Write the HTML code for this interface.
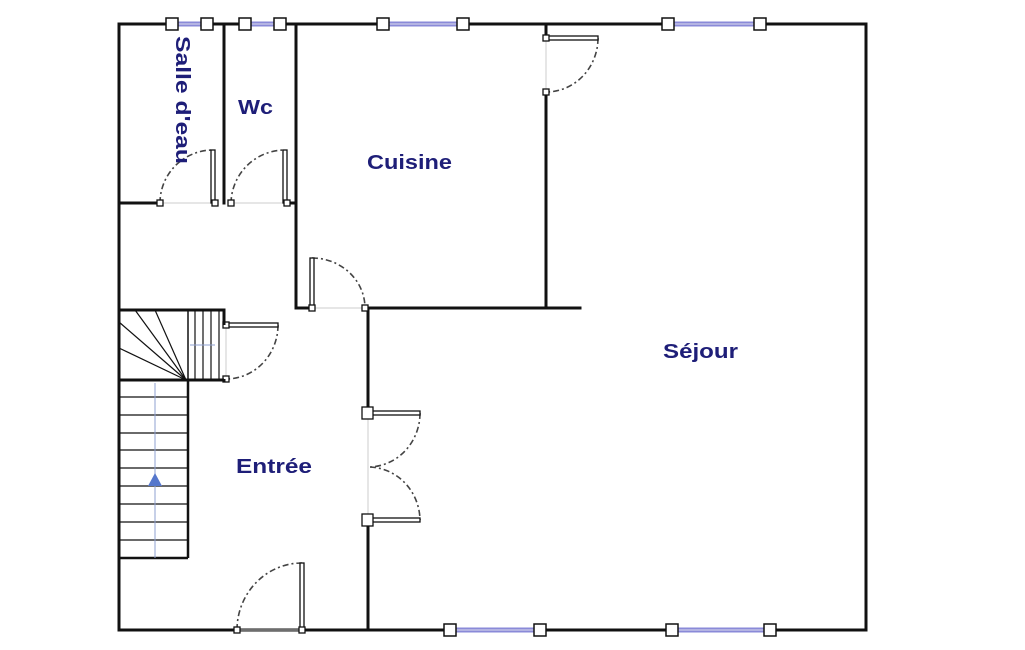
<!DOCTYPE html>
<html><head><meta charset="utf-8"><style>
html,body{margin:0;padding:0;background:#fff;}
svg{display:block;}
text{font-family:"Liberation Sans",sans-serif;font-weight:bold;fill:#1e1e78;font-size:20px;}
</style></head><body>
<svg width="1025" height="650" viewBox="0 0 1025 650" xmlns="http://www.w3.org/2000/svg">
<rect width="1025" height="650" fill="#fff"/>
<g stroke="#111" stroke-width="3" fill="none" stroke-linecap="square">
  <path d="M119 24 H866 V630 H119 Z"/>
  <line x1="224" y1="24" x2="224" y2="203"/>
  <path d="M296 24 V308 H312"/>
  <line x1="119" y1="203" x2="160" y2="203"/>
  <line x1="287" y1="203" x2="296" y2="203"/>
  <line x1="365" y1="308" x2="580" y2="308"/>
  <line x1="546" y1="24" x2="546" y2="38"/>
  <line x1="546" y1="92" x2="546" y2="308"/>
  <line x1="368" y1="308" x2="368" y2="413"/>
  <line x1="368" y1="520" x2="368" y2="630"/>
</g>
<g stroke="#8a8ad8" stroke-width="5">
  <line x1="172" y1="24" x2="207" y2="24"/>
  <line x1="245" y1="24" x2="280" y2="24"/>
  <line x1="383" y1="24" x2="463" y2="24"/>
  <line x1="668" y1="24" x2="760" y2="24"/>
  <line x1="450" y1="630" x2="540" y2="630"/>
  <line x1="672" y1="630" x2="770" y2="630"/>
</g>
<g stroke="#dde" stroke-width="1">
  <line x1="172" y1="24" x2="207" y2="24"/>
  <line x1="245" y1="24" x2="280" y2="24"/>
  <line x1="383" y1="24" x2="463" y2="24"/>
  <line x1="668" y1="24" x2="760" y2="24"/>
  <line x1="450" y1="630" x2="540" y2="630"/>
  <line x1="672" y1="630" x2="770" y2="630"/>
</g>
<g fill="#fff" stroke="#111" stroke-width="1.5">
  <rect x="166" y="18" width="12" height="12"/><rect x="201" y="18" width="12" height="12"/>
  <rect x="239" y="18" width="12" height="12"/><rect x="274" y="18" width="12" height="12"/>
  <rect x="377" y="18" width="12" height="12"/><rect x="457" y="18" width="12" height="12"/>
  <rect x="662" y="18" width="12" height="12"/><rect x="754" y="18" width="12" height="12"/>
  <rect x="444" y="624" width="12" height="12"/><rect x="534" y="624" width="12" height="12"/>
  <rect x="666" y="624" width="12" height="12"/><rect x="764" y="624" width="12" height="12"/>
</g>
<g stroke="#ccc" stroke-width="1">
  <line x1="160" y1="203" x2="215" y2="203"/>
  <line x1="231" y1="203" x2="287" y2="203"/>
  <line x1="312" y1="308" x2="365" y2="308"/>
  <line x1="546" y1="38" x2="546" y2="92"/>
  <line x1="368" y1="413" x2="368" y2="520"/>
  <line x1="226" y1="325" x2="226" y2="379"/>
  <line x1="237" y1="630" x2="302" y2="630"/>
</g>
<g stroke="#444" stroke-width="1.6" fill="none" stroke-dasharray="6,3,2,3">
  <path d="M160 203 A53 53 0 0 1 213 150"/>
  <path d="M231 203 A54 54 0 0 1 285 150"/>
  <path d="M312 258 A53 50 0 0 1 365 308"/>
  <path d="M598 38 A52 54 0 0 1 546 92"/>
  <path d="M420 413 A52 54 0 0 1 370 467"/>
  <path d="M370 467 A52 54 0 0 1 420 520"/>
  <path d="M278 325 A52 54 0 0 1 226 379"/>
  <path d="M237 630 A65 67 0 0 1 302 563"/>
</g>
<g fill="#fff" stroke="#111" stroke-width="1.3">
  <rect x="211" y="150" width="4" height="53"/>
  <rect x="283" y="150" width="4" height="53"/>
  <rect x="310" y="258" width="4" height="50"/>
  <rect x="546" y="36" width="52" height="4"/>
  <rect x="368" y="411" width="52" height="4"/>
  <rect x="368" y="518" width="52" height="4"/>
  <rect x="226" y="323" width="52" height="4"/>
  <rect x="300" y="563" width="4" height="67"/>
</g>
<g fill="#fff" stroke="#111" stroke-width="1.3">
  <rect x="157" y="200" width="6" height="6"/><rect x="212" y="200" width="6" height="6"/>
  <rect x="228" y="200" width="6" height="6"/><rect x="284" y="200" width="6" height="6"/>
  <rect x="309" y="305" width="6" height="6"/><rect x="362" y="305" width="6" height="6"/>
  <rect x="543" y="35" width="6" height="6"/><rect x="543" y="89" width="6" height="6"/>
  <rect x="362" y="407" width="11" height="12"/><rect x="362" y="514" width="11" height="12"/>
  <rect x="223" y="322" width="6" height="6"/><rect x="223" y="376" width="6" height="6"/>
  <rect x="234" y="627" width="6" height="6"/><rect x="299" y="627" width="6" height="6"/>
</g>
<g stroke="#111" fill="none">
  <path d="M119 310 H224 V325" stroke-width="3"/>
  <path d="M119 380 H224 V379" stroke-width="3"/>
  <line x1="188" y1="380" x2="188" y2="558" stroke-width="2.5"/>
  <line x1="119" y1="558" x2="188" y2="558" stroke-width="2.5"/>
  <line x1="188" y1="310" x2="188" y2="380" stroke-width="1.5"/>
  <line x1="195" y1="310" x2="195" y2="380" stroke-width="1.2"/>
  <line x1="203" y1="310" x2="203" y2="380" stroke-width="1.2"/>
  <line x1="211" y1="310" x2="211" y2="380" stroke-width="1.2"/>
  <line x1="219" y1="310" x2="219" y2="380" stroke-width="1.2"/>
  <g stroke-width="1.2">
    <line x1="186" y1="380" x2="119" y2="322"/>
    <line x1="186" y1="380" x2="119" y2="348"/>
    <line x1="186" y1="380" x2="155" y2="310"/>
    <line x1="186" y1="380" x2="135" y2="310"/>
  </g>
  <g stroke-width="1.2">
    <line x1="119" y1="397" x2="188" y2="397"/>
    <line x1="119" y1="415" x2="188" y2="415"/>
    <line x1="119" y1="433" x2="188" y2="433"/>
    <line x1="119" y1="450" x2="188" y2="450"/>
    <line x1="119" y1="468" x2="188" y2="468"/>
    <line x1="119" y1="486" x2="188" y2="486"/>
    <line x1="119" y1="504" x2="188" y2="504"/>
    <line x1="119" y1="522" x2="188" y2="522"/>
    <line x1="119" y1="540" x2="188" y2="540"/>
  </g>
</g>
<line x1="155" y1="383" x2="155" y2="558" stroke="#8fa0d0" stroke-width="1"/>
<line x1="190" y1="345" x2="215" y2="345" stroke="#8fa0d0" stroke-width="1"/>
<polygon points="155,473 148,486 162,486" fill="#5577cc"/>
<text x="367" y="169" textLength="85" lengthAdjust="spacingAndGlyphs">Cuisine</text>
<text x="663" y="358" textLength="75" lengthAdjust="spacingAndGlyphs">Séjour</text>
<text x="236" y="473" textLength="76" lengthAdjust="spacingAndGlyphs">Entrée</text>
<text x="238" y="114" textLength="35" lengthAdjust="spacingAndGlyphs">Wc</text>
<text transform="translate(176,36) rotate(90)" x="0" y="0" textLength="128" lengthAdjust="spacingAndGlyphs">Salle d'eau</text>
</svg>
</body></html>
